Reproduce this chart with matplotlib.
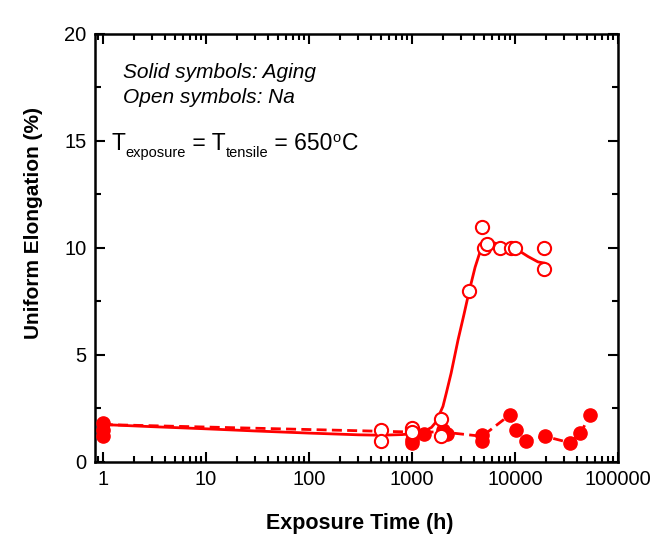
import numpy as np
import matplotlib.pyplot as plt
from matplotlib.ticker import LogLocator, MultipleLocator, FixedLocator, NullFormatter
from matplotlib.transforms import offset_copy

plt.rcParams['font.family'] = ['Liberation Sans', 'DejaVu Sans']

# Aging (solid symbols)
aging_t = [1, 1, 1, 1000, 1000, 1320, 2000, 2200, 4800, 4800, 8900, 10200, 12700, 19500, 34000, 43000, 53000]
aging_e = [1.8, 1.5, 1.2, 0.9, 1.05, 1.3, 1.5, 1.3, 1.25, 1.0, 2.2, 1.5, 1.0, 1.2, 0.9, 1.35, 2.2]

# Na exposure (open symbols)
na_t = [500, 500, 1000, 1000, 1900, 1900, 3600, 4800, 5000, 5300, 7200, 9200, 10000, 19000, 19000]
na_e = [1.5, 1.0, 1.6, 1.4, 2.0, 1.2, 8.0, 11.0, 10.0, 10.2, 10.0, 10.0, 10.0, 10.0, 9.0]

# trend through aging data (dashed)
aging_fit_t = [1, 1000, 2000, 4800, 8900, 10200, 12700, 19500, 34000, 43000, 53000]
aging_fit_e = [1.75, 1.4, 1.4, 1.2, 2.2, 1.5, 1.0, 1.2, 0.9, 1.3, 2.2]

# trend through Na data (solid)
na_fit_t = [1, 3, 10, 30, 100, 300, 500, 800, 1000, 1200, 1400, 1550, 1700, 1800, 2000,
            2150, 2400, 2800, 3200, 3600, 4100, 4600, 4900, 5200, 5600, 6200, 6800, 8500,
            10700, 13400, 16700, 19000]
na_fit_e = [1.75, 1.65, 1.55, 1.45, 1.35, 1.27, 1.25, 1.28, 1.32, 1.4, 1.5, 1.62, 1.85, 2.1, 2.6,
            3.2, 4.15, 5.7, 6.9, 8.0, 9.1, 9.85, 10.15, 10.28, 10.3, 10.25, 10.18, 10.05,
            9.9, 9.6, 9.35, 9.3]

fig = plt.figure(figsize=(6.66, 5.37), dpi=100)
ax = fig.add_axes([0.1426, 0.1397, 0.7854, 0.797])

red = '#ff0000'
ax.plot(na_fit_t, na_fit_e, '-', color=red, lw=2, zorder=2)
ax.plot(aging_fit_t, aging_fit_e, '--', color=red, lw=2, dashes=(3.6, 1.9), zorder=2)
ax.plot(aging_t, aging_e, 'o', color=red, ms=9.5, zorder=3)
ax.plot(na_t, na_e, 'o', mfc='white', mec=red, mew=1.5, ms=9.5, zorder=4)

ax.set_xscale('log')
ax.set_xlim(0.84, 1e5)
ax.set_ylim(0, 20)
ax.xaxis.set_major_locator(FixedLocator([1, 10, 100, 1000, 10000, 100000]))
ax.set_xticklabels(['1', '10', '100', '1000', '10000', '100000'])
ax.xaxis.set_minor_locator(LogLocator(base=10, subs=np.arange(2, 10), numticks=20))
ax.xaxis.set_minor_formatter(NullFormatter())
ax.yaxis.set_major_locator(MultipleLocator(5))
ax.yaxis.set_minor_locator(MultipleLocator(2.5))

ax.tick_params(which='both', direction='in', top=True, right=True, labelsize=14.5, width=1.5)
ax.tick_params(which='major', length=7, pad=6)
ax.tick_params(which='minor', length=4)
for s in ax.spines.values():
    s.set_linewidth(1.8)

ax.set_xlabel('Exposure Time (h)', fontsize=15.5, fontweight='bold', va='top')
ax.xaxis.set_label_coords(0.507, -0.12)
ax.set_ylabel('Uniform Elongation (%)', fontsize=15, fontweight='bold')
ax.yaxis.set_label_coords(-0.099, 0.558)

ax.text(0.0535, 0.91, 'Solid symbols: Aging', transform=ax.transAxes, fontsize=15,
        style='italic', va='center')
ax.text(0.0535, 0.852, 'Open symbols: Na', transform=ax.transAxes, fontsize=15,
        style='italic', va='center')

# T_exposure = T_tensile = 650°C, built piece by piece
pieces = [('T', 16.5, 0), ('exposure', 10.5, -7), (' = T', 16.5, 0), ('tensile', 10.5, -7),
          (' = 650', 16.5, 0), ('o', 10.5, 8), ('C', 16.5, 0)]
renderer = fig.canvas.get_renderer()
xoff = 0
for s, size, dy in pieces:
    tr = offset_copy(ax.transAxes, fig=fig, x=xoff, y=dy, units='dots')
    t = ax.text(0.0325, 0.729, s, transform=tr, fontsize=size, va='baseline')
    xoff += t.get_window_extent(renderer).width + (1 if s == 'o' else 0)

fig.savefig('out.png', dpi=100)
